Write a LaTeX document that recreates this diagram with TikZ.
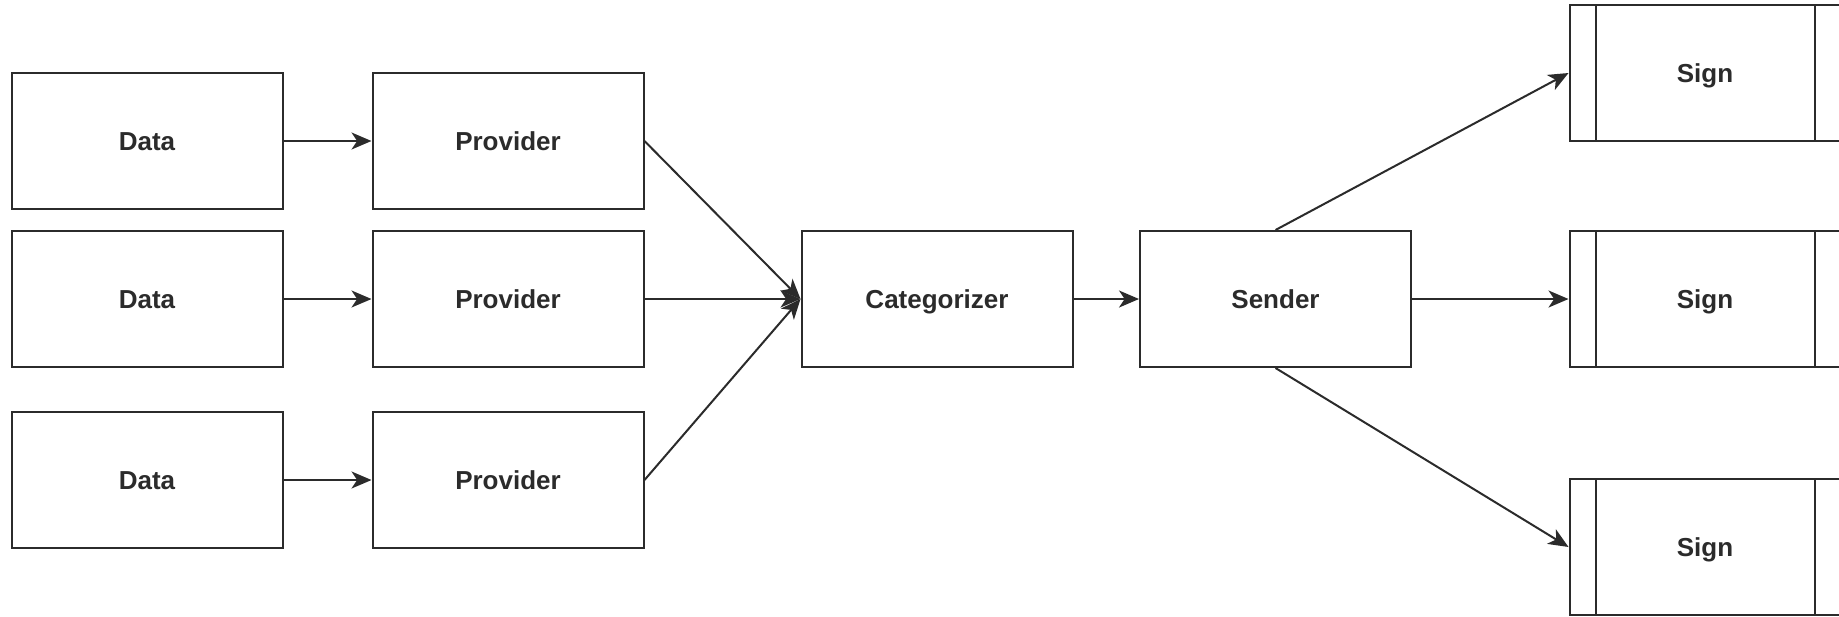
\documentclass[tikz,border=0pt]{standalone}
\usepackage{fontspec}
\setmainfont{Liberation Sans}
\usetikzlibrary{arrows.meta}
\definecolor{ink}{HTML}{2B2B2B}
\tikzset{
  x=0.5pt, y=-0.5pt,
  box/.style={draw=ink, line width=1pt, fill=white, minimum width=135.5pt,
    minimum height=68pt, inner sep=0pt, text=ink, text height=9.3pt, text depth=0pt,
    font=\fontsize{13}{15}\selectfont\bfseries},
  flow/.style={draw=ink, line width=1pt, -{Stealth[length=10pt,width=8.5pt,inset=2.8pt]}},
}
\begin{document}
\begin{tikzpicture}
\useasboundingbox (0,0) rectangle (1839,616);

% sources and providers
\node[box] (d1) at (147,141) {Data};
\node[box] (d2) at (147,299) {Data};
\node[box] (d3) at (147,480) {Data};
\node[box] (p1) at (508,141) {Provider};
\node[box] (p2) at (508,299) {Provider};
\node[box] (p3) at (508,480) {Provider};

% processing chain
\node[box] (c) at (937,299) {Categorizer};
\node[box] (s) at (1275.5,299) {Sender};

% output signs (process boxes)
\node[box] (g1) at (1705,73) {Sign};
\node[box] (g2) at (1705,299) {Sign};
\node[box] (g3) at (1705,547) {Sign};
\foreach \g in {g1,g2,g3}{
  \draw[ink, line width=1pt] ([xshift=13.5pt]\g.north west) -- ([xshift=13.5pt]\g.south west);
  \draw[ink, line width=1pt] ([xshift=-13.5pt]\g.north east) -- ([xshift=-13.5pt]\g.south east);
}

% connectors
\draw[flow] (d1.east) -- (p1.west);
\draw[flow] (d2.east) -- (p2.west);
\draw[flow] (d3.east) -- (p3.west);
\draw[flow] (p1.east) -- (c.west);
\draw[flow] (p2.east) -- (c.west);
\draw[flow] (p3.east) -- (c.west);
\draw[flow] (c.east) -- (s.west);
\draw[flow] (s.north) -- (g1.west);
\draw[flow] (s.east) -- (g2.west);
\draw[flow] (s.south) -- (g3.west);
\end{tikzpicture}
\end{document}
